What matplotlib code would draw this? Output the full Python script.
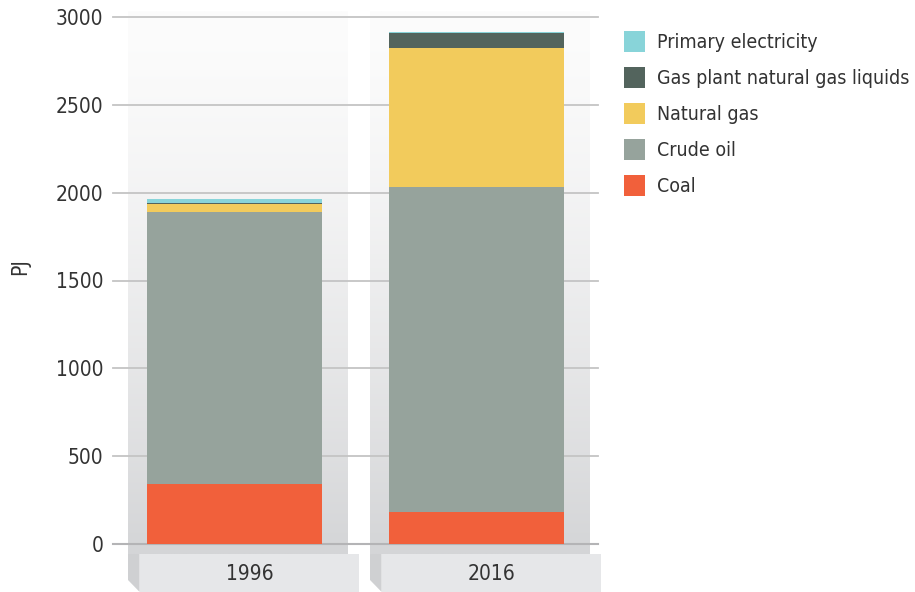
import numpy as np
import matplotlib
matplotlib.use("Agg")
import matplotlib.pyplot as plt
from matplotlib.patches import Rectangle, Polygon

plt.rcParams['font.family'] = ['DejaVu Sans']
plt.rcParams['font.stretch'] = 'condensed'

# data (PJ)
years = ["1996", "2016"]
sources = ["Coal", "Crude oil", "Natural gas", "Gas plant natural gas liquids", "Primary electricity"]
coal = [340, 184]
crude_oil = [1550, 1847]
natural_gas = [48, 791]
ngl = [4, 87]
primary_elec = [22, 6]
colors = ["#f1603b", "#96a39c", "#f2cb5c", "#53645d", "#88d4d9"]

series = [coal, crude_oil, natural_gas, ngl, primary_elec]

fig = plt.figure(figsize=(9.15, 5.92), dpi=100)
W, H = 915, 592
ax = fig.add_axes([113 / W, (H - 544) / H, (598 - 113) / W, (544 - 17) / H])
ax.set_xlim(-0.502, 1.502)
ax.set_ylim(0, 3000)

x = np.arange(len(years))

# gradient background columns + category label boxes
grad = np.linspace(0, 1, 256) ** 1.4
top_c = np.array([252, 252, 252]) / 255
bot_c = np.array([212, 213, 215]) / 255
img = (top_c + (bot_c - top_c) * grad[:, None]).reshape(256, 1, 3)
for xi in x:
    cl, cr = xi - 0.44, xi + 0.466
    ax.imshow(img, extent=(cl, cr, -57, 3030), aspect='auto', zorder=0.2,
              clip_on=False, interpolation='bilinear')
    ll, lr = xi - 0.392, xi + 0.516
    ax.add_patch(Polygon([(cl, -57), (ll, -57), (ll, -273), (cl, -205)],
                         closed=True, facecolor="#cfd0d2", edgecolor="none",
                         zorder=0.3, clip_on=False))
    ax.add_patch(Rectangle((ll, -273), lr - ll, 216, facecolor="#e6e7e9",
                           edgecolor="none", zorder=0.4, clip_on=False))
    ax.text((ll + lr) / 2, -168, years[xi], ha='center', va='center',
            fontsize=15, color="#333333", zorder=1)
ax.set_aspect('auto')

# stacked bars
bottom = np.zeros(len(years))
for vals, c, name in zip(series, colors, sources):
    ax.bar(x, vals, width=0.723, bottom=bottom, color=c, zorder=2, label=name)
    bottom += np.array(vals)

# grid lines
for yv in range(500, 3001, 500):
    ax.axhline(yv, color="#c4c4c4", lw=1.3, zorder=0.5, clip_on=False)
ax.axhline(0, color="#b4b4b6", lw=1.5, zorder=1.5, clip_on=False)

ax.set_yticks(range(0, 3001, 500))
ax.set_xticks([])
ax.tick_params(axis='y', length=0, pad=7, labelsize=15, labelcolor="#333333")
for s in ax.spines.values():
    s.set_visible(False)
ax.patch.set_alpha(0)
fig.text(20 / W, 1 - 267 / H, "PJ", rotation=90, ha='center', va='center',
         fontsize=15, color="#333333")

# legend (top to bottom)
for i, (name, c) in enumerate(zip(sources[::-1], colors[::-1])):
    ytop = 31 + i * 36
    fig.patches.append(Rectangle((624 / W, 1 - (ytop + 21) / H), 21 / W, 21 / H,
                                 transform=fig.transFigure, facecolor=c,
                                 edgecolor="none"))
    fig.text(657 / W, 1 - (ytop + 11) / H, name, ha='left', va='center',
             fontsize=14, color="#333333")

fig.savefig("out.png", dpi=100)
